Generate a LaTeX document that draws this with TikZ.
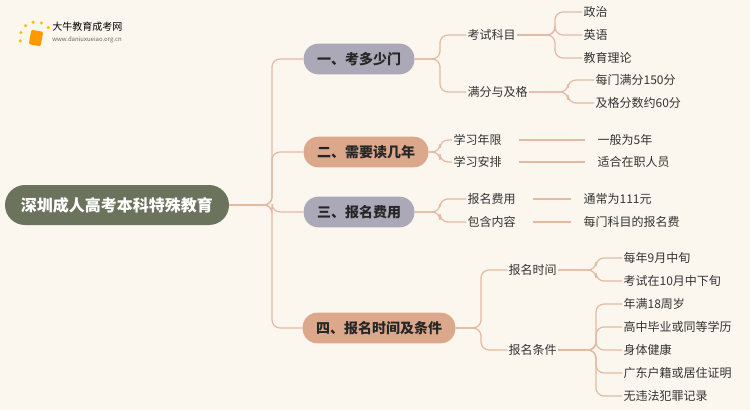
\documentclass[tikz,border=0pt]{standalone}
\usepackage{fontspec}
\setmainfont{Noto Sans CJK SC}
\begin{document}
\begin{tikzpicture}[x=0.75pt,y=-0.75pt,
  ln/.style={draw=lineC,line width=0.9pt,rounded corners=6pt},
  root/.style={fill=rootC,text=white,rounded corners=15pt,font=\bfseries\fontsize{12}{14}\selectfont,inner xsep=12pt},
  brA/.style={fill=purC,rounded corners=11pt,minimum height=23pt,font=\bfseries\fontsize{10.5}{12}\selectfont,text=black!85,inner xsep=10pt},
  brB/.style={brA,fill=salC},
  lf/.style={font=\fontsize{9}{11}\selectfont,text=black!80,anchor=west,inner sep=1pt}]
\definecolor{lineC}{HTML}{E3B9A2}
\definecolor{rootC}{HTML}{6C735C}
\definecolor{purC}{HTML}{ABA8B8}
\definecolor{salC}{HTML}{DCA88C}
\definecolor{bgC}{HTML}{FBF6EE}
\fill[bgC] (0,0) rectangle (750,410);
\useasboundingbox (0,0) rectangle (750,410);
% logo
\node[fill=orange!80!yellow,rounded corners=1pt,minimum width=9pt,minimum height=11pt,rotate=-10,inner sep=0pt] (logo) at (36,38) {};
\foreach \a in {70,100,130,160,190,40} \fill[orange!50!yellow] (36,38)++(\a:12pt) circle (1.3pt);
\node[anchor=west,font=\fontsize{7.5}{8}\selectfont,inner sep=0pt] (lt) at (52,27) {大牛教育成考网};
\node[anchor=west,font=\fontsize{4.5}{5}\selectfont,text=black!60,inner sep=0pt] (lu) at (52,40) {www.daniuxueiao.org.cn};
% root
\node[root,minimum width=215pt*0.75,minimum height=40pt*0.75] (r) at (117,205) {深圳成人高考本科特殊教育};
\node[brA,minimum width=106*0.75pt] (b1) at (359,59) {一、考多少门};
\node[brB,minimum width=121*0.75pt] (b2) at (366,152) {二、需要读几年};
\node[brA,minimum width=106*0.75pt] (b3) at (359,212) {三、报名费用};
\node[brB,minimum width=147*0.75pt] (b4) at (379,328) {四、报名时间及条件};
\foreach \b/\y in {b1/59,b2/152,b3/212,b4/328}
  \draw[ln] (r.east) -- (272,205) -- (272,\y) -- (\b.west);
% level 2
\newcommand\sub[4]{% name, x, y, text
  \node[lf] (#1) at (#2,#3) {#4};}
\sub{k1}{466}{35}{考试科目}
\sub{k2}{466}{92}{满分与及格}
\sub{k3}{452}{140}{学习年限}
\sub{k4}{452}{162}{学习安排}
\sub{k5}{466}{199}{报名费用}
\sub{k6}{466}{222}{包含内容}
\sub{k7}{507}{270}{报名时间}
\sub{k8}{507}{350}{报名条件}
\foreach \b/\k/\x in {b1/k1/440,b1/k2/440,b2/k3/440,b2/k4/440,b3/k5/440,b3/k6/440,b4/k7/481,b4/k8/481}
  \draw[ln] (\b.east) -- (\x,0 |- \b.east) -- (\x,0 |- \k.west) -- (\k.west);
% leaves
\sub{l1}{582}{12}{政治}
\sub{l2}{582}{35}{英语}
\sub{l3}{582}{58}{教育理论}
\sub{l4}{594}{80}{每门满分150分}
\sub{l5}{594}{103}{及格分数约60分}
\sub{l6}{596}{140}{一般为5年}
\sub{l7}{596}{162}{适合在职人员}
\sub{l8}{582}{199}{通常为111元}
\sub{l9}{582}{222}{每门科目的报名费}
\sub{m1}{622}{258}{每年9月中旬}
\sub{m2}{622}{281}{考试在10月中下旬}
\sub{m3}{622}{304}{年满18周岁}
\sub{m4}{622}{327}{高中毕业或同等学历}
\sub{m5}{622}{350}{身体健康}
\sub{m6}{622}{373}{广东户籍或居住证明}
\sub{m7}{622}{396}{无违法犯罪记录}
\foreach \k/\l/\x in {k1/l1/555,k1/l2/555,k1/l3/555,k2/l4/568,k2/l5/568,k7/m1/596,k7/m2/596,k8/m3/596,k8/m4/596,k8/m5/596,k8/m6/596,k8/m7/596}
  \draw[ln] (\k.east) -- (\x,0 |- \k.east) -- (\x,0 |- \l.west) -- (\l.west);
\foreach \k/\l in {k3/l6,k4/l7,k5/l8,k6/l9}
  \draw[ln] (\k.east) ++(12pt,0) -- ([xshift=-8pt]\l.west);
\end{tikzpicture}
\end{document}
